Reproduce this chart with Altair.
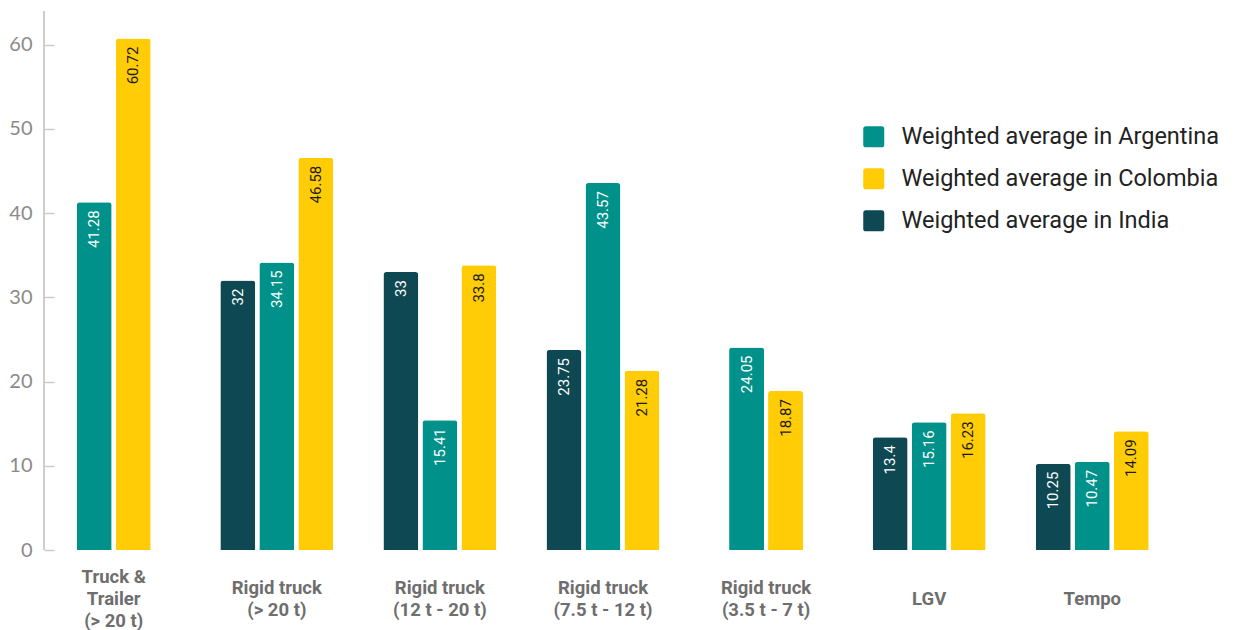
import altair as alt
import pandas as pd

groups = ["Truck &\nTrailer\n(> 20 t)", "Rigid truck\n(> 20 t)", "Rigid truck\n(12 t - 20 t)",
          "Rigid truck\n(7.5 t - 12 t)", "Rigid truck\n(3.5 t - 7 t)", "LGV", "Tempo"]
series = ["Weighted average in Argentina", "Weighted average in Colombia", "Weighted average in India"]
colors = ["#00918A", "#FFCC05", "#0E4852"]

india = [None, 32, 33, 23.75, None, 13.4, 10.25]
argentina = [41.28, 34.15, 15.41, 43.57, 24.05, 15.16, 10.47]
colombia = [60.72, 46.58, 33.8, 21.28, 18.87, 16.23, 14.09]

rows = []
for gi, g in enumerate(groups):
    present = [(s, v) for s, v in (("Weighted average in India", india[gi]),
                                   ("Weighted average in Argentina", argentina[gi]),
                                   ("Weighted average in Colombia", colombia[gi])) if v is not None]
    n = len(present)
    for i, (s, v) in enumerate(present):
        rows.append({"group": g, "series": s, "value": v, "slot": i - (n - 1) / 2,
                     "label": f"{v:g}", "dark": s != "Weighted average in Colombia"})
df = pd.DataFrame(rows)
gdf = pd.DataFrame({"group": groups, "lines": [g.count("\n") + 1 for g in groups]})

H = 539
x_scale = alt.Scale(type="point", padding=0.4276, domain=groups)
x_enc = alt.X("group:N", sort=groups, title=None, scale=x_scale,
              axis=alt.Axis(labels=False, domain=False, ticks=False))
xo_enc = alt.XOffset("slot:Q", scale=alt.Scale(domain=[-1, 1], range=[-39, 39]))
y_enc = alt.Y("value:Q", title=None,
              scale=alt.Scale(domain=[0, 64], nice=False),
              axis=alt.Axis(values=[0, 10, 20, 30, 40, 50, 60], grid=False, domain=False,
                            tickSize=10, offset=-10, tickColor="#CCCCCC", tickWidth=1.5,
                            labelPadding=12, labelFont="Lato", labelFontSize=20,
                            labelColor="#8A8A8A"))

base = alt.Chart(df)

legend_path = "M-0.75,-1 H0.75 Q1,-1 1,-0.75 V0.75 Q1,1 0.75,1 H-0.75 Q-1,1 -1,0.75 V-0.75 Q-1,-1 -0.75,-1 Z"

bars = base.mark_bar(width=35, cornerRadiusTopLeft=3, cornerRadiusTopRight=3).encode(
    x=x_enc, xOffset=xo_enc, y=y_enc,
    color=alt.Color("series:N", scale=alt.Scale(domain=series, range=colors), title=None,
                    legend=alt.Legend(orient="none", legendX=818, legendY=114,
                                      symbolType=legend_path, symbolSize=441,
                                      symbolStrokeWidth=0, symbolOpacity=1,
                                      labelFont="Roboto", labelFontSize=23.5, labelColor="#222222",
                                      labelOffset=16, rowPadding=17, labelLimit=400)),
)

labels = base.mark_text(angle=270, align="right", baseline="middle", dx=-8,
                        font="Roboto", fontSize=15).encode(
    x=x_enc, xOffset=xo_enc, y=y_enc, text="label:N",
    color=alt.condition("datum.dark", alt.value("#FFFFFF"), alt.value("#1A1A1A")),
)

yline = alt.Chart(df).mark_rule(color="#CCCCCC", strokeWidth=1.5).encode(
    x=alt.value(0), y=alt.value(0), y2=alt.value(H))

LH = 22
xlabel_layers = []
for n in (1, 2, 3):
    xlabel_layers.append(
        alt.Chart(gdf).transform_filter(f"datum.lines == {n}").mark_text(
            font="Roboto", fontWeight="bold", fontSize=18.5, color="#6E6E6E",
            align="center", baseline="middle", lineBreak="\n", lineHeight=LH,
            dy=-(n - 1) * LH / 2,
        ).encode(x=alt.X("group:N", sort=groups, scale=x_scale, title=None),
                 y=alt.value(H + 49), text="group:N")
    )

chart = alt.layer(yline, bars, labels, *xlabel_layers).properties(
    width=1118, height=H,
    padding={"left": 36, "top": 3, "right": 60, "bottom": 80},
    autosize=alt.AutoSizeParams(type="none"),
).configure_view(stroke=None)

chart.save("out.html", embed_options={"renderer": "svg", "actions": False})
